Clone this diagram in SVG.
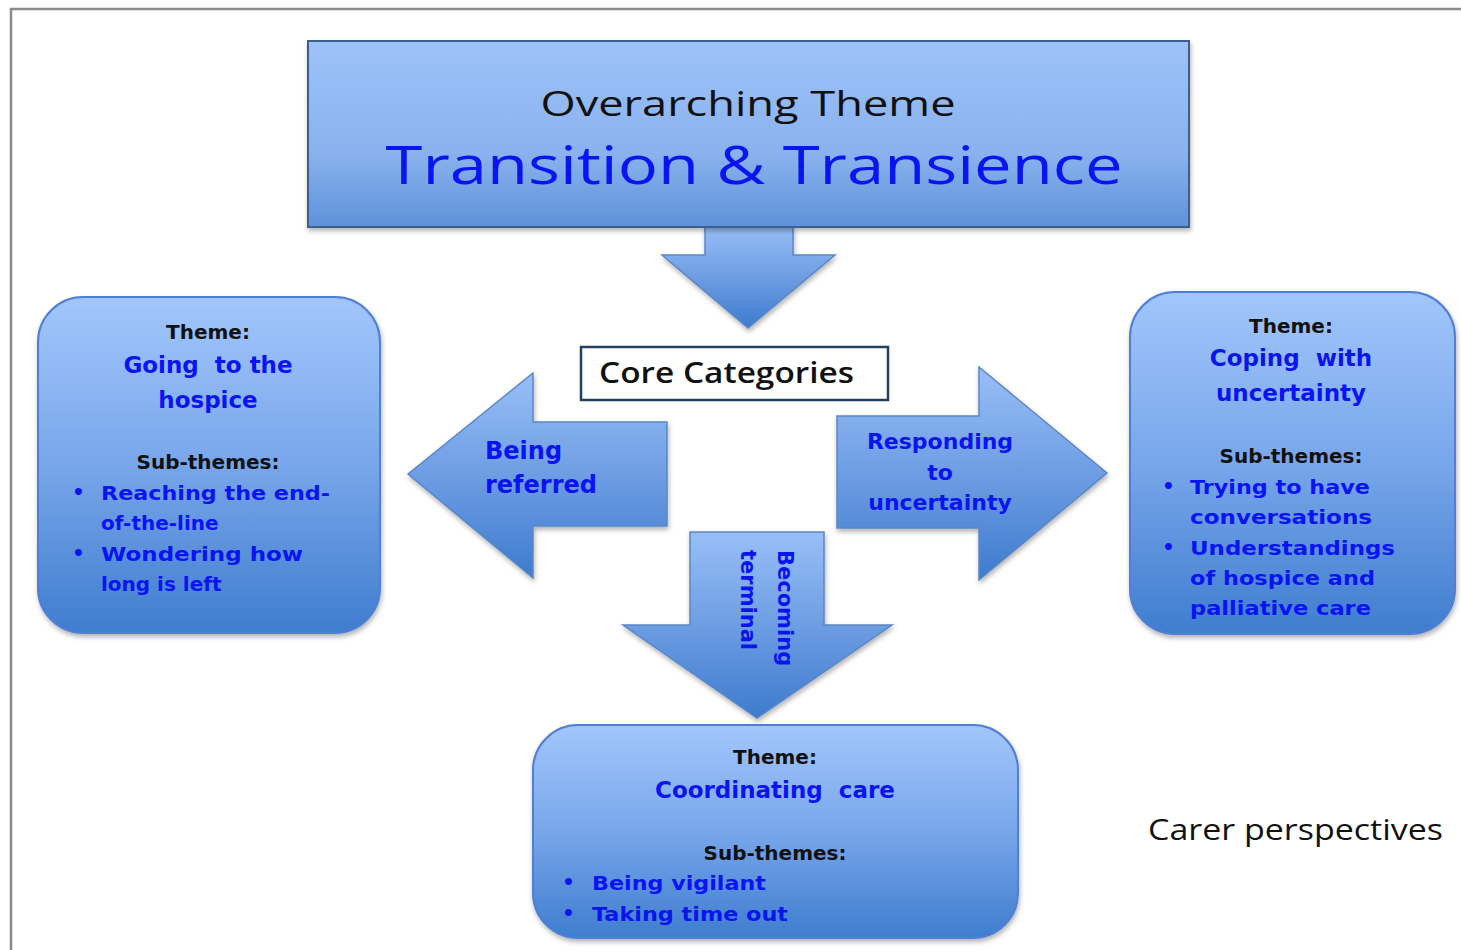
<svg xmlns="http://www.w3.org/2000/svg" width="1461" height="950" viewBox="0 0 1461 950">
<style>
.frame{fill:none;stroke:#8a8a8a;stroke-width:2.5}
.box{fill:url(#gBox);stroke:#4f7fd6;stroke-width:2;filter:url(#sh)}
.top{fill:url(#gTop);stroke:#3c5f8e;stroke-width:2;filter:url(#sh)}
.arr{fill:url(#gArr);stroke:#5b86c6;stroke-width:1.5;filter:url(#sh)}
.cal{font-family:"Open Sans","Liberation Sans",sans-serif}
.v{font-family:"DejaVu Sans","Liberation Sans",sans-serif;font-weight:bold}
.bk{fill:#111}
.bl{fill:#0a14f0}
.c{text-anchor:middle}
</style>
<defs>
<linearGradient id="gBox" x1="0" y1="0" x2="0" y2="1">
<stop offset="0" stop-color="#a2c6fc"/>
<stop offset="0.5" stop-color="#78a6ea"/>
<stop offset="1" stop-color="#3f7dcf"/>
</linearGradient>
<linearGradient id="gArr" x1="0" y1="0" x2="0" y2="1">
<stop offset="0" stop-color="#98bff7"/>
<stop offset="0.5" stop-color="#6e9de3"/>
<stop offset="1" stop-color="#3d7bce"/>
</linearGradient>
<linearGradient id="gTop" x1="0" y1="0" x2="0" y2="1">
<stop offset="0" stop-color="#9dc2f9"/>
<stop offset="0.6" stop-color="#8ab2ee"/>
<stop offset="1" stop-color="#5e92da"/>
</linearGradient>
<filter id="sh" x="-5%" y="-5%" width="110%" height="115%">
<feDropShadow dx="1" dy="3" stdDeviation="2.5" flood-color="#000" flood-opacity="0.3"/>
</filter>
</defs>

<path class="frame" d="M11 950 V9 H1461"/>

<g id="connectors">
<path class="arr" d="M705 226 H793 V255 H835 L748 328 L662 255 H705 Z"/>
<path class="arr" d="M408 474 L533 373 V422 H667 V526 H533 V578 Z"/>
<path class="arr" d="M837 416 H979 V367 L1107 473 L979 580 V528 H837 Z"/>
<path class="arr" d="M690 532 H824 V625 H892 L757 718 L623 625 H690 Z"/>
<text class="v bl" font-size="24" x="485" y="459">Being</text>
<text class="v bl" font-size="24" x="485" y="493">referred</text>
<text class="v bl c" font-size="22" x="940" y="449">Responding</text>
<text class="v bl c" font-size="22" x="940" y="480">to</text>
<text class="v bl c" font-size="22" x="940" y="510">uncertainty</text>
<g transform="translate(778,550) rotate(90)">
<text class="v bl" font-size="21" x="0" y="0">Becoming</text>
<text class="v bl" font-size="21" x="0" y="37">terminal</text>
</g>
</g>

<g id="overarching">
<rect class="top" x="308" y="41" width="881" height="186"/>
<text class="cal bk c" font-size="34" x="748" y="116" textLength="415" lengthAdjust="spacingAndGlyphs">Overarching Theme</text>
<text class="cal bl c" font-size="53" x="754" y="184" textLength="737" lengthAdjust="spacingAndGlyphs">Transition &amp; Transience</text>
</g>

<g id="core">
<rect x="581" y="347" width="307" height="53" fill="#fff" stroke="#24405f" stroke-width="2.5"/>
<text class="cal bk" font-size="28" font-weight="600" x="599" y="383" textLength="255" lengthAdjust="spacingAndGlyphs">Core Categories</text>
</g>

<g id="theme-left">
<rect class="box" x="38" y="297" width="342" height="336" rx="45"/>
<text class="v bk c" font-size="20" x="208" y="339">Theme:</text>
<text class="v bl c" font-size="23" x="208" y="373" xml:space="preserve">Going  to the</text>
<text class="v bl c" font-size="23" x="208" y="408">hospice</text>
<text class="v bk c" font-size="20" x="208" y="469">Sub-themes:</text>
<text class="v bl" font-size="20" x="72" y="499">•</text>
<text class="v bl" font-size="20" x="101" y="500" textLength="229" lengthAdjust="spacingAndGlyphs">Reaching the end-</text>
<text class="v bl" font-size="20" x="101" y="530">of-the-line</text>
<text class="v bl" font-size="20" x="72" y="560">•</text>
<text class="v bl" font-size="20" x="101" y="561" textLength="202" lengthAdjust="spacingAndGlyphs">Wondering how</text>
<text class="v bl" font-size="20" x="101" y="591">long is left</text>
</g>

<g id="theme-right">
<rect class="box" x="1130" y="292" width="325" height="342" rx="45"/>
<text class="v bk c" font-size="20" x="1291" y="333">Theme:</text>
<text class="v bl c" font-size="23" x="1291" y="366" xml:space="preserve">Coping  with</text>
<text class="v bl c" font-size="23" x="1291" y="401">uncertainty</text>
<text class="v bk c" font-size="20" x="1291" y="463">Sub-themes:</text>
<text class="v bl" font-size="20" x="1162" y="493">•</text>
<text class="v bl" font-size="20" x="1190" y="494" textLength="180" lengthAdjust="spacingAndGlyphs">Trying to have</text>
<text class="v bl" font-size="20" x="1190" y="524" textLength="182" lengthAdjust="spacingAndGlyphs">conversations</text>
<text class="v bl" font-size="20" x="1162" y="554">•</text>
<text class="v bl" font-size="20" x="1190" y="555" textLength="205" lengthAdjust="spacingAndGlyphs">Understandings</text>
<text class="v bl" font-size="20" x="1190" y="585" textLength="185" lengthAdjust="spacingAndGlyphs">of hospice and</text>
<text class="v bl" font-size="20" x="1190" y="615" textLength="181" lengthAdjust="spacingAndGlyphs">palliative care</text>
</g>

<g id="theme-bottom">
<rect class="box" x="533" y="725" width="485" height="213" rx="45"/>
<text class="v bk c" font-size="20" x="775" y="764">Theme:</text>
<text class="v bl c" font-size="23" x="775" y="798" xml:space="preserve">Coordinating  care</text>
<text class="v bk c" font-size="20" x="775" y="860">Sub-themes:</text>
<text class="v bl" font-size="20" x="562" y="889">•</text>
<text class="v bl" font-size="20" x="592" y="890" textLength="174" lengthAdjust="spacingAndGlyphs">Being vigilant</text>
<text class="v bl" font-size="20" x="562" y="920">•</text>
<text class="v bl" font-size="20" x="592" y="921" textLength="196" lengthAdjust="spacingAndGlyphs">Taking time out</text>
</g>

<g id="caption">
<text class="cal bk" font-size="30" x="1148" y="840" textLength="295" lengthAdjust="spacingAndGlyphs">Carer perspectives</text>
</g>
</svg>
